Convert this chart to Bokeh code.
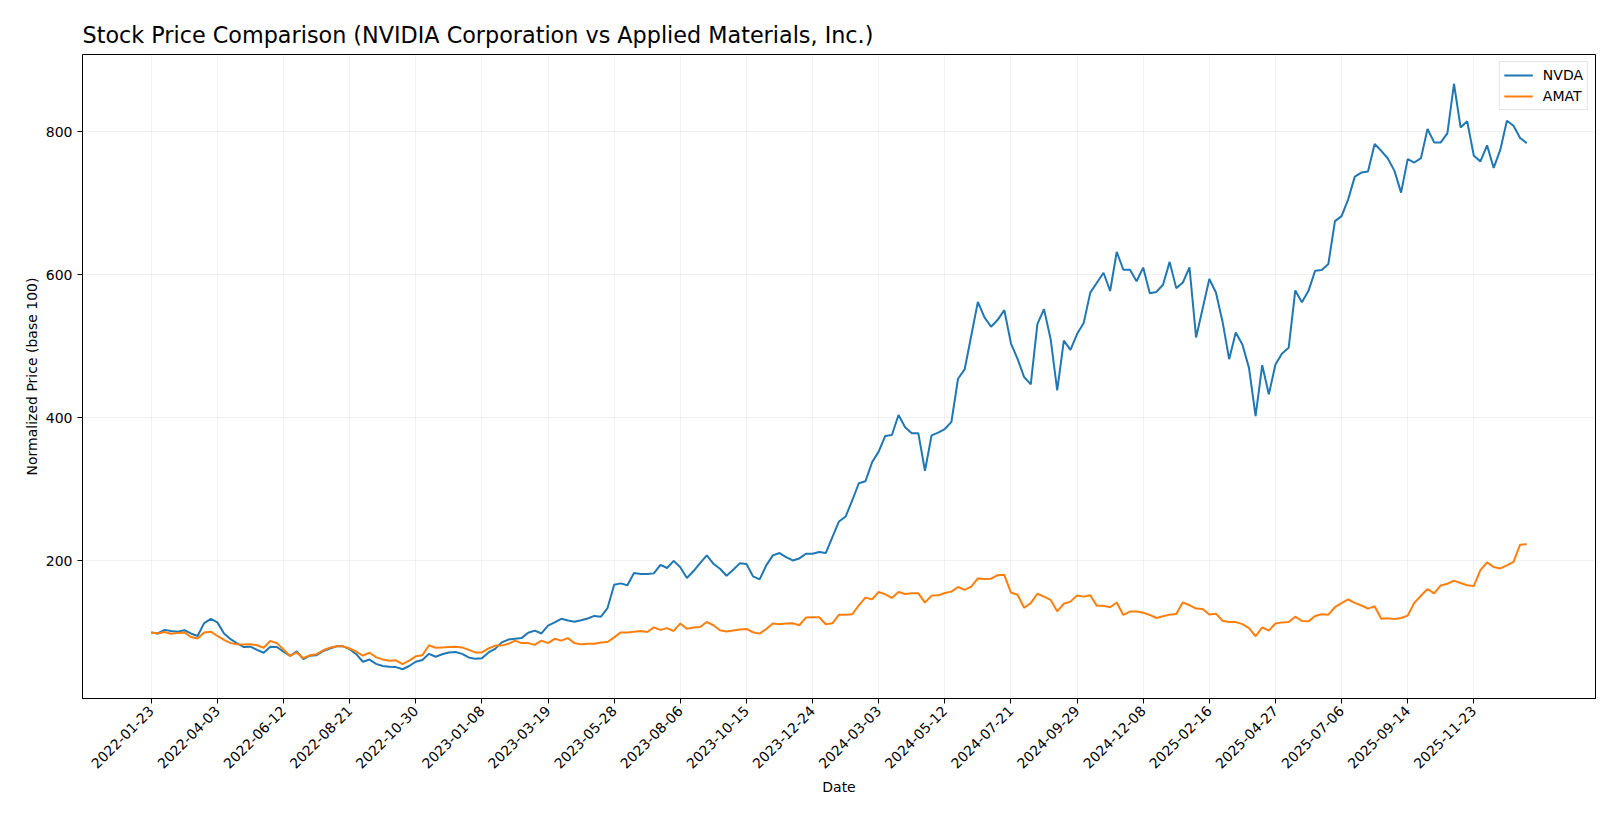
import pandas as pd
from math import pi
from bokeh.plotting import figure
from bokeh.models import Range1d, FixedTicker, Legend, LegendItem, ColumnDataSource
from bokeh.embed import file_html
from bokeh.resources import INLINE

title_text = "Stock Price Comparison (NVIDIA Corporation vs Applied Materials, Inc.)"
start_date = "2022-01-23"
series_names = ["NVDA", "AMAT"]
tick_labels = ["2022-01-23", "2022-04-03", "2022-06-12", "2022-08-21", "2022-10-30",
               "2023-01-08", "2023-03-19", "2023-05-28", "2023-08-06", "2023-10-15",
               "2023-12-24", "2024-03-03", "2024-05-12", "2024-07-21", "2024-09-29",
               "2024-12-08", "2025-02-16", "2025-04-27", "2025-07-06", "2025-09-14",
               "2025-11-23"]
y_ticks = [200, 400, 600, 800]

nvda = [100, 98.5, 103.5, 102, 101, 103, 98.5, 95, 113, 119,
        114, 98.5, 90.5, 84.5, 79.5, 80, 75.5, 71.5, 80, 79.5,
        73, 67, 73.5, 62.5, 67.5, 68, 74, 77.5, 80.5, 80.5,
        76.5, 69.5, 59, 62, 56, 53, 52, 51.5, 48.5, 53,
        59, 61.5, 70, 66, 69.5, 72, 72.5, 70, 65, 63,
        64, 72, 77, 86, 90, 91, 92, 99.5, 102.5, 98.5,
        109.5, 114, 119, 116.5, 115, 117, 119.5, 123, 122, 134,
        166.5, 168.5, 166, 183, 181.5, 181.5, 182.5, 194.5, 190, 200,
        191, 176, 185.8, 196.9, 207.6, 196, 189, 179.2, 187.6, 196.5,
        195.5, 178.3, 174.1, 193.7, 207.6, 210.9, 205.3, 200.6, 203.4, 209.9,
        209.9, 212.3, 210.9, 233.2, 255.1, 262, 284.4, 308.5, 311.3, 337.8,
        352.7, 374.6, 376, 403.9, 386.7, 378.3, 378.3, 326, 375.5, 379.2,
        384.3, 394.4, 454.6, 467.6, 514.8, 562, 540.3, 527.3, 537, 550.5,
        504.2, 482.4, 457, 446.8, 531, 551.9, 510.2, 438.4, 507.9, 494.9,
        517.1, 532.4, 575, 588.9, 602.8, 577.3, 632, 607, 607, 591,
        610, 574, 576, 586, 618, 581.3, 589.2, 610.3, 512.4, 553.2,
        594.1, 575.2, 534.4, 482, 519.4, 502.6, 469.8, 402.3, 473.5, 432.8,
        474.5, 490, 497.9, 578, 561.6, 577.5, 605.6, 606.6, 615, 675,
        682, 705.4, 737.2, 742.9, 744.3, 782.7, 773.3, 762.5, 745.2, 714.8,
        761.6, 756.9, 763, 803.7, 785, 785, 797.7, 867, 806, 814.5,
        766.3, 758.5, 781, 749.4, 774.5, 815.4, 808.2, 791.3, 784]

amat = [100, 98.5, 100.5, 98, 99, 100, 93.5, 91.5, 100, 101,
        95, 89.5, 85, 83.5, 83, 83.5, 82, 78.5, 88, 85,
        76, 67, 72, 64, 68, 69.5, 75, 78.5, 80.5, 80.5,
        77.5, 73, 67.5, 71.5, 65.5, 62, 60.5, 61, 55.5, 60.5,
        66.5, 68, 82, 78.5, 79, 79.5, 80, 79, 75.5, 72,
        72, 77.5, 81.5, 81.5, 84, 88.5, 85, 85, 82.5, 88.5,
        85, 91, 88.5, 92, 85, 83.5, 84, 84, 86, 86.5,
        93, 100, 100, 101, 102, 100.5, 107, 103.5, 106, 102,
        112.5, 105, 106.7, 107.6, 114.6, 110, 103, 101.1, 102.5, 103.9,
        104.8, 100.2, 98.3, 104.8, 112.3, 111.4, 112.3, 112.7, 110, 120.7,
        121.1, 121.1, 111.4, 112.7, 124.8, 124.8, 125.3, 137.9, 148.6, 146.2,
        156.5, 153.2, 148.1, 156.5, 153.7, 154.6, 154.6, 141.6, 151.4, 151.8,
        155, 157, 163.5, 159.5, 164, 175.5, 174.5, 175, 180, 180.5,
        155.7, 152.7, 134.5, 141, 154, 150, 145.5, 129.5, 140, 143,
        151.5, 150, 152, 137.1, 137.1, 135.2, 141.8, 124.4, 129.1, 129.1,
        127.6, 124.4, 120.1, 122.5, 124.8, 125.8, 142, 138, 133.3, 132.8,
        125, 126.2, 116.3, 114.4, 114.4, 111.6, 106, 94.6, 107, 102.5,
        112.5, 114, 114.4, 122, 115.9, 115.4, 122.9, 125.3, 124.8, 135.2,
        140.9, 146, 141.3, 137.6, 133.3, 136.6, 119.2, 119.6, 118.7, 120.1,
        123.4, 141.3, 151.2, 160.7, 154.5, 165.6, 168, 172.3, 169, 166,
        165, 187, 198, 191.3, 189.4, 193.7, 198.6, 222.7, 223.1]

colors = ["#1f77b4", "#ff7f0e"]
FONT = "DejaVu Sans"

dates = pd.date_range(start_date, periods=len(nvda), freq="7D")
src = ColumnDataSource(dict(date=dates, nvda=nvda, amat=amat))

def to_ms(ts):
    return (pd.Timestamp(ts) - pd.Timestamp("1970-01-01")) / pd.Timedelta(milliseconds=1)

x0, x1 = to_ms(dates[0]), to_ms(dates[-1])
xpad = 0.05 * (x1 - x0)
allv = nvda + amat
ylo, yhi = min(allv), max(allv)
ypad = 0.05 * (yhi - ylo)

p = figure(width=1604, height=803, x_axis_type="datetime",
           x_range=Range1d(x0 - xpad, x1 + xpad), y_range=Range1d(ylo - ypad, yhi + ypad),
           output_backend="svg", toolbar_location=None,
           min_border_left=82, min_border_right=9, min_border_top=54, min_border_bottom=105)

p.title.text = title_text
p.title.text_font = FONT
p.title.text_font_size = "22.3px"
p.title.text_font_style = "normal"
p.title.text_color = "black"
p.title.align = "left"
p.title.standoff = 14

r1 = p.line("date", "nvda", source=src, line_color=colors[0], line_width=2)
r2 = p.line("date", "amat", source=src, line_color=colors[1], line_width=2)

tick_ms = [to_ms(t) for t in tick_labels]
p.xaxis.ticker = FixedTicker(ticks=tick_ms)
p.xaxis.major_label_overrides = {t: lbl for t, lbl in zip(tick_ms, tick_labels)}
p.xaxis.major_label_orientation = pi / 4
p.yaxis.ticker = FixedTicker(ticks=y_ticks)
p.yaxis.major_label_overrides = {v: str(v) for v in y_ticks}

p.xaxis.axis_label = "Date"
p.yaxis.axis_label = "Normalized Price (base 100)"
for ax in (p.xaxis[0], p.yaxis[0]):
    ax.axis_label_text_font = FONT
    ax.axis_label_text_font_size = "14px"
    ax.axis_label_text_font_style = "normal"
    ax.axis_label_text_color = "black"
    ax.major_label_text_font = FONT
    ax.major_label_text_font_size = "14px"
    ax.major_label_text_color = "black"
    ax.axis_line_color = "black"
    ax.axis_line_width = 1
    ax.major_tick_line_color = "black"
    ax.major_tick_line_width = 1
    ax.major_tick_in = 0
    ax.major_tick_out = 5
    ax.minor_tick_line_color = None
    ax.major_label_standoff = 5
p.xaxis.axis_label_standoff = 3
p.yaxis.axis_label_standoff = 3

p.xgrid.grid_line_color = "#b0b0b0"
p.xgrid.grid_line_alpha = 0.18
p.ygrid.grid_line_color = "#b0b0b0"
p.ygrid.grid_line_alpha = 0.18

p.outline_line_color = "black"
p.outline_line_width = 1
p.background_fill_color = "white"
p.border_fill_color = "white"

legend = Legend(items=[LegendItem(label=series_names[0], renderers=[r1]),
                       LegendItem(label=series_names[1], renderers=[r2])],
                location="top_right", margin=7, padding=4, spacing=3,
                glyph_width=29, glyph_height=18, label_height=18, label_standoff=10,
                label_text_font=FONT, label_text_font_size="14px", label_text_color="black",
                border_line_color="#cccccc", border_line_width=1,
                background_fill_color="white", background_fill_alpha=0.8)
p.add_layout(legend)

open("out.html", "w").write(file_html(p, INLINE))
